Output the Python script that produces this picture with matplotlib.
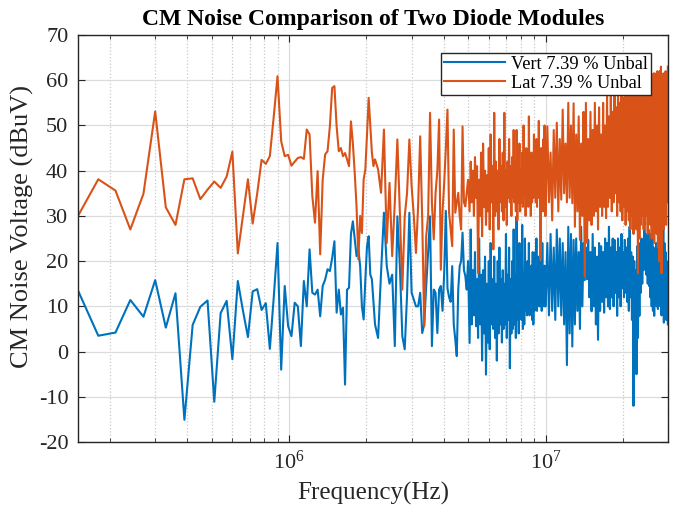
# CM noise comparison of two diode modules (log frequency axis)
import matplotlib
matplotlib.use('Agg')
import matplotlib.pyplot as plt
import numpy as np
from matplotlib.ticker import LogLocator, NullFormatter

# ---- data ----
# low band: 150 kHz .. 2.16 MHz, 30 kHz bins
freq_a = 1.5e5 + 3e4 * np.arange(68)
vert_a = [13.5, 3.5, 4.2, 11.4, 7.7, 15.8, 5.3, 12.9, -15.1, 5.9,
          9.9, 11.3, -11.1, 8.5, 11.2, -1.7, 15.6, 9.0, 3.2, 13.3,
          13.8, 9.2, 10.7, 0.6, 12.0, 24.0, -4.0, 14.5, 5.6, 3.4,
          10.8, 10.0, 1.2, 15.6, 10.0, 22.6, 13.0, 12.6, 13.7, 7.8,
          14.5, 15.9, 18.2, 17.8, 20.7, 24.4, 8.6, 13.7, 8.2, 9.7,
          -7.3, 13.7, 14.1, 26.0, 28.8, 24.8, 21.1, 22.6, 18.9, 10.0,
          7.1, 15.9, 23.3, 25.5, 17.0, 16.0, 11.0, 6.0]
lat_a = [30.0, 38.1, 35.6, 27.0, 34.9, 53.1, 31.9, 28.0, 38.1, 38.3,
         33.7, 35.8, 37.6, 36.2, 38.7, 44.2, 21.7, 30.0, 38.1, 28.3,
         35.0, 42.4, 41.5, 43.2, 52.0, 60.9, 46.5, 43.2, 43.5, 41.1,
         42.0, 42.8, 43.0, 42.6, 49.1, 48.0, 34.4, 28.5, 39.9, 21.5,
         38.0, 43.6, 44.3, 49.8, 58.3, 58.7, 49.8, 44.3, 45.0, 43.2,
         43.9, 42.5, 41.0, 50.9, 46.1, 39.5, 32.0, 20.4, 30.0, 26.2,
         38.0, 40.3, 48.0, 56.1, 50.0, 44.0, 41.0, 42.5]

# 2.22 .. 4.98 MHz, 60 kHz bins
freq_b1 = 2.22e6 + 6e4 * np.arange(47)
vert_b1 = [3.0, 17.4, 30.7, 18.9, 15.0, 17.0, 1.2, 29.9, 18.9, 3.4,
           0.5, 12.5, 30.7, 13.0, 11.5, 10.0, 10.0, 13.0, 4.1, 6.0,
           14.5, 22.0, 29.9, 1.2, 13.7, 13.0, 4.1, 13.7, 14.5, 9.0,
           17.4, 31.1, 14.0, 12.0, 11.0, 18.9, 6.0, 2.7, -1.0, 13.7,
           18.9, 20.0, 26.3, 18.0, 16.7, 13.7, 20.0]
lat_b1 = [40.3, 35.1, 49.1, 24.0, 37.3, 21.1, 33.0, 46.9, 30.7, 13.7,
          29.9, 35.1, 46.9, 36.6, 30.0, 21.8, 32.1, 47.6, 29.2, 5.6,
          25.5, 30.0, 52.8, 32.9, 24.8, 35.0, 40.0, 51.3, 18.1, 31.0,
          37.3, 45.0, 53.5, 30.7, 27.0, 23.3, 49.1, 30.7, 33.0, 35.1,
          30.0, 27.0, 49.8, 33.0, 32.1, 35.0, 38.0]

# 5.05 .. 9.95 MHz, 50 kHz bins
freq_b2 = 5.05e6 + 5e4 * np.arange(99)
vert_b2 = [1.9, 27, 6, 18, 8, 22, 5.6, 16, 3, 25,
           6, 17, -2, 18, 4, 21, -5.1, 15, 2, 20,
           0.5, 24, 6, 16, 5, 21, 3, 15, -2, 20,
           4, 23, 6, 16, 2, 18, 5, 15, 6, 26,
           3, 17, 7, 23, -3.7, 16, 4, 20, 5, 27,
           6, 17, 3, 29.9, 7, 16, 4, 24, 8, 17,
           7, 28, 5, 17, 6, 25, 9, 16, 8, 20,
           10, 24, 8, 17, 10, 19, 7, 22, 6, 16,
           9, 22, 11, 25, 9, 16, 12, 21, 10, 18,
           12, 20, 9, 24, 11, 17, 10, 19, 10]
lat_b2 = [31, 42, 33, 40, 30, 43, 34, 41, 17.4, 38,
          30, 44, 25.5, 46, 32, 40, 28, 39, 31, 45,
          27, 48, 33, 41, 22.6, 52.8, 30, 42, 31, 40,
          27, 47, 33, 41, 31, 44, 29, 52.8, 32, 40,
          28, 42, 34, 47, 33, 41, 30, 43, 34, 49,
          33, 41, 31, 49, 29, 42, 33, 46, 31, 40,
          33, 44, 32, 50, 35, 41, 30, 45, 33, 40,
          32, 52, 34, 42, 30, 44, 33, 40, 34, 48,
          36, 42, 33, 47, 32, 41, 34, 51, 35, 42,
          20.4, 45, 33, 40, 31, 47, 34, 50, 30]

# 10 .. 30 MHz, 150 kHz bins
freq_c = 1.0e7 + 1.5e5 * np.arange(134)
vert_c = [10, 24, 8, 26, 9, 23, 7, 27, 10, 25,
          8, 24, 6, 22, -3, 27.6, 4, 26, 1.1, 24.7,
          6, 25, 9, 22, 5, 27.6, 10, 24, 15.8, 23,
          16, 24.7, 12, 22, 8.9, 26, 10, 23, 6, 21,
          2.6, 24, 9, 23.3, 11, 22, 8.6, 25, 12, 24,
          10, 27.6, 9.4, 23, 12, 25, 10, 24.7, 13, 22,
          7.9, 25, 12, 23, 10, 26, 14, 22, 12, 24.7,
          13, 23, 11, 25, 9, 27.6, 12, 22, 7, 21,
          -12, 20, -2, 18, -5, 23.3, 3, 22, 7.9, 24,
          13, 25, 15, 24, 18, 28.4, 21.7, 26, 17, 25,
          15, 27, 14.5, 24, 12, 26, 10, 24.7, 9, 23,
          7.9, 22, 11, 24, 10, 23.3, 9.4, 21, 12, 25,
          10, 24, 8, 26, 9, 27.6, 6.4, 24, 8, 22,
          7, 20, 9, 6]
lat_c = [30, 49.8, 33, 44, 29, 49, 34, 50.6, 31, 47,
         33.6, 53.5, 35, 46, 33, 55, 34, 50, 32.8, 54.9,
         27.6, 48, 31, 52, 24.7, 46, 30, 53, 16.6, 55,
         24, 47, 29, 53, 28, 49, 30, 55, 31, 50,
         27, 54, 32, 48, 30, 55, 32, 50, 29.5, 56.6,
         32, 52, 34, 57.9, 31, 53, 33, 58, 35, 54,
         30, 59.3, 33, 55, 31, 60, 29, 56, 32, 60,
         28, 61.5, 31, 57, 29, 61, 27, 58, 30, 61,
         26, 60, 29, 57, 27, 61, 17.3, 58, 25, 61,
         28, 62, 30, 58, 27, 63, 28, 59, 30, 63,
         26, 63, 29, 60, 28, 61.5, 25, 59, 27, 61.5,
         24, 61.5, 28, 58, 26, 62, 23, 60, 20, 62,
         25, 63, 17.3, 60, 28, 61.5, 27, 59, 30, 62,
         28, 61.5, 33, 63]

freq = np.concatenate([freq_a, freq_b1, freq_b2, freq_c])
vert = np.concatenate([vert_a, vert_b1, vert_b2, vert_c])
lat = np.concatenate([lat_a, lat_b1, lat_b2, lat_c])

plt.rcParams['font.family'] = ['Liberation Serif', 'DejaVu Serif']
plt.rcParams['mathtext.fontset'] = 'custom'
plt.rcParams['mathtext.rm'] = 'Liberation Serif'
plt.rcParams['axes.unicode_minus'] = False

fig = plt.figure(figsize=(6.86, 5.08), dpi=100)
ax = fig.add_axes([0.1137, 0.1299, 0.8601, 0.8012])

ax.plot(freq, vert, color='#0072BD', lw=1.5, label='Vert 7.39 % Unbal')
ax.plot(freq, lat, color='#D95319', lw=1.5, label='Lat 7.39 % Unbal')

ax.set_xscale('log')
ax.set_xlim(1.5e5, 3e7)
ax.set_ylim(-20, 70)
ax.set_yticks(np.arange(-20, 71, 10))
ax.xaxis.set_major_locator(LogLocator(base=10, numticks=10))
ax.xaxis.set_minor_locator(LogLocator(base=10, subs=np.arange(2, 10), numticks=100))
ax.xaxis.set_minor_formatter(NullFormatter())

ax.grid(which='major', color='#dcdcdc', lw=0.9, ls='-')
ax.grid(which='minor', axis='x', color='#c8c8c8', lw=0.9, ls=':')
ax.set_axisbelow(True)
for s in ax.spines.values():
    s.set_color('#262626')
    s.set_linewidth(1.0)

ax.tick_params(which='both', direction='in', top=True, right=True,
               colors='#262626', labelsize=16)
ax.tick_params(which='major', length=5)
ax.tick_params(which='minor', length=3)
ax.tick_params(axis='y', pad=7)
ax.tick_params(axis='x', pad=6)
for lbl in ax.get_xticklabels() + ax.get_yticklabels():
    lbl.set_color('#262626')

ax.set_title('CM Noise Comparison of Two Diode Modules', fontsize=17,
             fontweight='bold', pad=7)
ax.set_xlabel('Frequency(Hz)', fontsize=18, color='#262626', labelpad=6)
ax.set_ylabel('CM Noise Voltage (dBuV)', fontsize=19, color='#262626')
ax.yaxis.set_label_coords(-0.075, 0.53)

leg = ax.legend(loc='upper right', bbox_to_anchor=(0.971, 0.956),
                fontsize=13.2, frameon=True, fancybox=False,
                edgecolor='#262626', framealpha=1, handlelength=3.3,
                handletextpad=0.35, borderpad=0.15, labelspacing=0.12,
                borderaxespad=0)
leg.get_frame().set_linewidth(1.0)

fig.savefig('out.png', dpi=100)
